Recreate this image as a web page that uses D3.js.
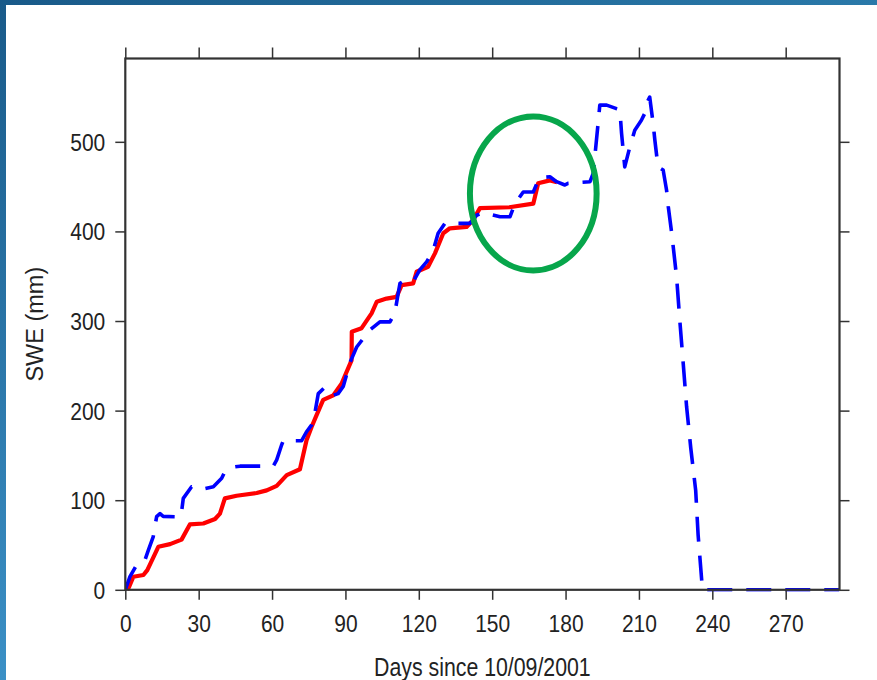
<!DOCTYPE html>
<html>
<head>
<meta charset="utf-8">
<script src="https://cdn.jsdelivr.net/npm/d3@7"></script>
<style>
  html, body { margin: 0; padding: 0; background: #ffffff; }
  svg { display: block; }
  text { font-family: "Liberation Sans", Arial, Helvetica, sans-serif; fill: #222; }
</style>
</head>
<body>
<svg id="chart" width="877" height="680"></svg>
<script>
// ---------- data ----------
const xTicks = [0, 30, 60, 90, 120, 150, 180, 210, 240, 270];
const yTicks = [0, 100, 200, 300, 400, 500];
const xTitle = "Days since 10/09/2001";
const yTitle = "SWE (mm)";

// red solid series: [day, SWE mm]
const redDays = [0.8, 1.5, 3.3, 7.4, 9, 13.5, 18.3, 23, 26.4, 31.9, 36.7, 38.7, 40.7, 45.5, 53.7, 57.8, 61.9, 66, 71.4, 74.1, 76.2, 78.2, 80.9, 85, 88.4, 92.5, 92.6, 96.6, 100.7, 102.8, 106.8, 110.9, 113, 117.7, 119.1, 123.8, 126.6, 130, 132.7, 139.5, 142.2, 145, 157, 166.8, 168.8, 173.6, 176.5];
const redSWE  = [0, 3, 14.6, 16.5, 22, 48, 51, 56, 73, 74, 79, 85, 102, 105, 108, 111, 116, 128, 134.5, 167, 182, 195, 212, 217, 230, 256, 288, 292, 308.6, 321.5, 325, 327, 340, 342, 355, 360.6, 375.5, 398, 403.5, 405, 412.7, 426, 427, 431, 453.7, 457, 455];

// blue dashed series: [day, SWE mm]
const blueDays = [0, 1.9, 4.6, 6.7, 8, 9.4, 11.4, 12.8, 14.2, 15.5, 20.3, 21.7, 23, 23.7, 27.1, 29.8, 32.6, 36, 39.4, 40.7, 43.5, 46.9, 60.5, 61.9, 63.9, 64.6, 72.1, 74.1, 76.2, 77.5, 78.9, 81.6, 85, 87, 89.1, 92, 94.6, 100, 104.1, 108.2, 110.2, 111.7, 112.3, 113.6, 117.7, 120.4, 123.2, 125.9, 127.9, 130.7, 140.9, 143.6, 146.3, 153.2, 157.3, 159.3, 162.7, 166.8, 168.8, 169.5, 173.6, 176.3, 179.7, 181, 190, 191.3, 193.3, 194, 196.8, 200.8, 202.2, 202.9, 204.2, 206.3, 208.3, 211, 212.4, 213.1, 214.4, 215.8, 216.5, 217.8, 219.9, 221.3, 222, 223.4, 225.4, 226.7, 228.1, 229.5, 231.2, 233.2, 234.2, 235.6, 236, 292];
const blueSWE  = [0, 14.6, 27.7, 33, 33, 44, 59, 81.6, 85, 82, 81.6, 80, 87, 102, 115, 113, 113, 115, 124.4, 131.8, 136.7, 138, 138, 145, 161.6, 166.4, 166.4, 176.4, 184, 197, 219, 226, 217, 219, 227, 254.6, 271, 290, 299, 299, 309, 333, 342, 344, 344, 357, 366, 379, 398, 409, 409, 418, 421, 416.4, 416.4, 431, 444, 444, 457, 460, 461, 455.5, 451.8, 453.7, 455.5, 464.8, 520.6, 541, 541, 537, 535.7, 509.5, 472, 494.5, 513, 524, 531.8, 543, 550, 520.6, 502, 472, 468.5, 446, 427.6, 398, 349, 301, 252.8, 204, 158, 111, 61, 12.8, 0, 0];

// green highlight ellipse (data units): center day, center SWE, half-width days, half-height mm
const ellipseCenter = [166.8, 442.4];
const ellipseRadii  = [25.9, 86];

// ---------- drawing ----------
const svg = d3.select("#chart");
const W = 877, H = 680;
const plot = { left: 125.3, right: 839.5, top: 58.5, bottom: 589.8 };
const FONT = "Liberation Sans, Arial, sans-serif";
const STRETCH = 1.12; // glyphs in the reference are a bit taller than wide

const x = d3.scaleLinear().domain([0, 292]).range([plot.left, plot.right]);
const y = d3.scaleLinear().domain([0, 593]).range([plot.bottom, plot.top]);

// slide frame
const defs = svg.append("defs");
const gTop = defs.append("linearGradient").attr("id", "gTop").attr("x1", "0").attr("x2", "1").attr("y1", "0").attr("y2", "0");
gTop.append("stop").attr("offset", "0").attr("stop-color", "#195a89");
gTop.append("stop").attr("offset", "1").attr("stop-color", "#2a79a9");
const gLeft = defs.append("linearGradient").attr("id", "gLeft").attr("x1", "0").attr("x2", "0").attr("y1", "0").attr("y2", "1");
gLeft.append("stop").attr("offset", "0").attr("stop-color", "#195a89");
gLeft.append("stop").attr("offset", "1").attr("stop-color", "#3b90c6");

svg.append("rect").attr("x", 0).attr("y", 0).attr("width", W).attr("height", H).attr("fill", "#ffffff");
svg.append("rect").attr("x", 0).attr("y", 0).attr("width", W).attr("height", 5).attr("fill", "url(#gTop)");
svg.append("rect").attr("x", 0).attr("y", 0).attr("width", 6).attr("height", H).attr("fill", "url(#gLeft)");

const clip = defs.append("clipPath").attr("id", "plotClip");
clip.append("rect").attr("x", plot.left).attr("y", plot.top - 2)
  .attr("width", plot.right - plot.left).attr("height", plot.bottom - plot.top + 4);

// series
const line = d3.line().x(d => x(d[0])).y(d => y(d[1]));
const red = redDays.map((d, i) => [d, redSWE[i]]);
const blue = blueDays.map((d, i) => [d, blueSWE[i]]);

const series = svg.append("g").attr("clip-path", "url(#plotClip)");
series.append("path").datum(red).attr("d", line)
  .attr("fill", "none").attr("stroke", "#ff0000").attr("stroke-width", 4.2)
  .attr("stroke-linejoin", "round");
series.append("path").datum(blue).attr("d", line)
  .attr("fill", "none").attr("stroke", "#0000ff").attr("stroke-width", 3.6)
  .attr("stroke-dasharray", "25,14").attr("stroke-linejoin", "round");

// axes (ticks outward on all four sides)
const tickStyle = g => {
  g.select(".domain").remove();
  g.selectAll(".tick line").attr("stroke", "#333").attr("stroke-width", 1.5);
};
svg.append("g").attr("transform", `translate(0,${plot.bottom})`)
  .call(d3.axisBottom(x).tickValues(xTicks).tickSize(10).tickFormat(d3.format("d")))
  .call(tickStyle)
  .call(g => g.selectAll(".tick text")
    .attr("y", 0).attr("dy", 0)
    .attr("transform", `translate(0,42) scale(1,${STRETCH})`)
    .attr("font-size", 21).attr("fill", "#222").attr("font-family", FONT));
svg.append("g").attr("transform", `translate(0,${plot.top})`)
  .call(d3.axisTop(x).tickValues(xTicks).tickSize(11).tickFormat(""))
  .call(tickStyle);
svg.append("g").attr("transform", `translate(${plot.left},0)`)
  .call(d3.axisLeft(y).tickValues(yTicks).tickSize(10).tickFormat(d3.format("d")))
  .call(tickStyle)
  .call(g => g.selectAll(".tick text")
    .attr("x", 0).attr("dy", 0)
    .attr("transform", `translate(-20,8.4) scale(1,${STRETCH})`)
    .attr("font-size", 21).attr("fill", "#222").attr("font-family", FONT));
svg.append("g").attr("transform", `translate(${plot.right},0)`)
  .call(d3.axisRight(y).tickValues(yTicks).tickSize(10).tickFormat(""))
  .call(tickStyle);

// frame
svg.append("rect").attr("x", plot.left).attr("y", plot.top)
  .attr("width", plot.right - plot.left).attr("height", plot.bottom - plot.top)
  .attr("fill", "none").attr("stroke", "#333").attr("stroke-width", 2.2);

// green ellipse annotation
svg.append("ellipse")
  .attr("cx", x(ellipseCenter[0])).attr("cy", y(ellipseCenter[1]))
  .attr("rx", x(ellipseCenter[0] + ellipseRadii[0]) - x(ellipseCenter[0]))
  .attr("ry", y(ellipseCenter[1]) - y(ellipseCenter[1] + ellipseRadii[1]))
  .attr("fill", "none").attr("stroke", "#07a64b").attr("stroke-width", 6);

// titles
svg.append("text")
  .attr("transform", `translate(${(plot.left + plot.right) / 2},675.5) scale(1,1.17)`)
  .attr("text-anchor", "middle").attr("font-size", 21.3).text(xTitle);
svg.append("text").attr("transform", `translate(43,${(plot.top + plot.bottom) / 2}) rotate(-90)`)
  .attr("text-anchor", "middle").attr("font-size", 23.5).text(yTitle);
</script>
</body>
</html>
